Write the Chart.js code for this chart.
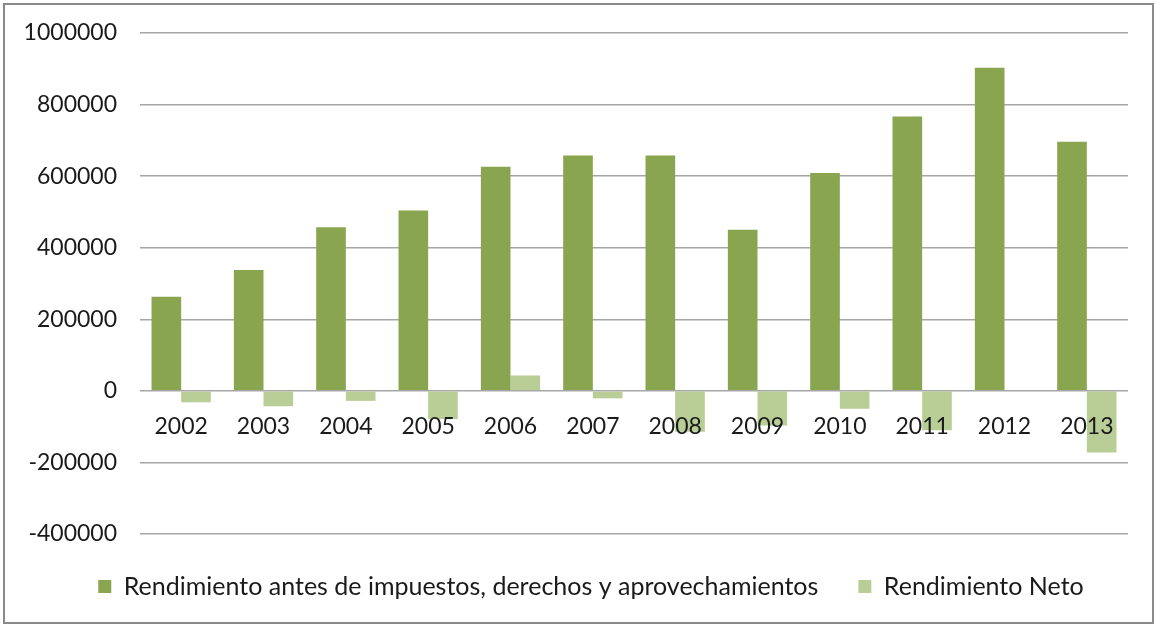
<!DOCTYPE html>
<html>
<head>
<meta charset="utf-8">
<script src="https://cdn.jsdelivr.net/npm/chart.js@4/dist/chart.umd.min.js"></script>
<style>
  html, body { margin: 0; padding: 0; background: #fff; overflow: hidden; }
  #wrap { position: relative; width: 1156px; height: 627px; overflow: hidden; }
  #c { position: absolute; left: 0; top: 0; }
  #frame { position: absolute; left: 3px; top: 3px; width: 1147px; height: 617px; border: 2px solid #8a8a8a; pointer-events: none; }
</style>
</head>
<body>
<div id="wrap">
  <canvas id="c" width="1156" height="627" style="width:1156px;height:627px"></canvas>
  <div id="frame"></div>
</div>
<script>
const years = ['2002','2003','2004','2005','2006','2007','2008','2009','2010','2011','2012','2013'];
const rendimientoAntes = [263000, 338000, 457000, 504000, 626000, 658000, 658000, 450000, 609000, 767000, 903000, 696000];
const rendimientoNeto = [-32000, -43000, -28000, -79000, 43000, -21000, -114000, -97000, -50000, -110000, 0, -172000];
const yTicks = [-400000, -200000, 0, 200000, 400000, 600000, 800000, 1000000];
const seriesNames = ['Rendimiento antes de impuestos, derechos y aprovechamientos', 'Rendimiento Neto'];

const FONT = 'Lato';
const legendShift = {
  id: 'legendShift',
  afterLayout(chart) {
    if (chart.legend) { chart.legend.left += 27; chart.legend.right += 27; }
  }
};
new Chart(document.getElementById('c'), {
  type: 'bar',
  data: {
    labels: years,
    datasets: [
      { label: seriesNames[0], data: rendimientoAntes, backgroundColor: '#8AA54F', borderWidth: 0 },
      { label: seriesNames[1], data: rendimientoNeto, backgroundColor: '#B9CD96', borderWidth: 0 }
    ]
  },
  plugins: [legendShift],
  options: {
    responsive: false,
    animation: false,
    devicePixelRatio: 1,
    layout: { padding: { left: 0, right: 28, top: 33, bottom: 18 } },
    datasets: { bar: { categoryPercentage: 0.72, barPercentage: 1.0 } },
    scales: {
      x: {
        position: { y: 0 },
        grid: { display: false, drawTicks: false, tickLength: 0 },
        border: { display: false },
        ticks: { z: 1, color: '#1a1a1a', font: { family: FONT, size: 23 }, padding: 22, maxRotation: 0 }
      },
      y: {
        min: -400000, max: 1000000,
        afterFit: (s) => { s.width = 140; s.paddingTop = 0; s.paddingBottom = 0; },
        afterBuildTicks: (s) => { s.ticks = yTicks.map(v => ({ value: v })); },
        grid: { color: '#a6a6a6', lineWidth: 1.5, drawTicks: false, tickLength: 0 },
        border: { display: false },
        ticks: { color: '#1a1a1a', font: { family: FONT, size: 23 }, padding: 23, callback: (v) => String(v) }
      }
    },
    plugins: {
      tooltip: { enabled: false },
      legend: {
        position: 'bottom',
        labels: { boxWidth: 13, boxHeight: 13, padding: 40, color: '#1a1a1a', font: { family: FONT, size: 25, lineHeight: 1 } }
      }
    }
  }
});
</script>
</body>
</html>
